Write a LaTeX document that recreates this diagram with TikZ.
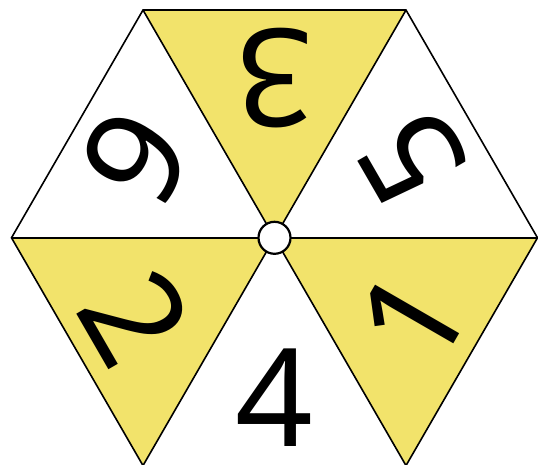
\documentclass[tikz,border=0pt]{standalone}
\usepackage{fontspec}
\setmainfont{Noto Sans}
\usetikzlibrary{calc}
\definecolor{tileyellow}{RGB}{242,227,107}
\begin{document}
\begin{tikzpicture}[x=1pt,y=1pt,
  edge/.style={draw=black,line width=1.6pt,line join=miter},
  digit/.style={font=\fontsize{136}{136}\selectfont,inner sep=0pt,anchor=center}]
\useasboundingbox (0,0) rectangle (538,464);
\coordinate (C) at (274.5,226.2);
\foreach \a/\n in {0/R,60/TR,120/TL,180/L,240/BL,300/BR}
  \coordinate (\n) at ($(C)+(\a:263)$);
\fill[tileyellow] (C) -- (TR) -- (TL) -- cycle;
\fill[tileyellow] (C) -- (L) -- (BL) -- cycle;
\fill[tileyellow] (C) -- (BR) -- (R) -- cycle;
\draw[edge] (BL) -- (L) -- (TL) -- (TR) -- (R) -- (BR);
\draw[edge] (R) -- (L);
\draw[edge] (TR) -- (BL);
\draw[edge] (TL) -- (BR);
\node[digit,rotate=180] (d3) at ($(C)+(90:160)$) {3};
\node[digit,rotate=120] (d5) at ($(C)+(30:160)$) {5};
\node[digit,rotate=60] (d1) at ($(C)+(-30:160)$) {1};
\node[digit] (d4) at ($(C)+(-90:160)$) {4};
\node[digit,rotate=-60] (d2) at ($(C)+(210:160)$) {2};
\node[digit,rotate=-120] (d6) at ($(C)+(150:160)$) {6};
\draw[line width=2.2pt,fill=white] (C) circle (16);
\end{tikzpicture}
\end{document}
